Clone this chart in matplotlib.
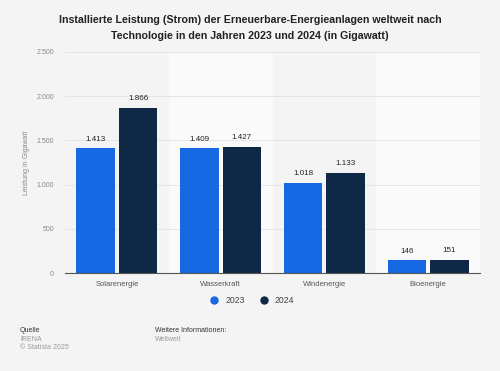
import matplotlib.pyplot as plt
import numpy as np

categories = ['Solarenergie', 'Wasserkraft', 'Windenergie', 'Bioenergie']
years = ['2023', '2024']
values_2023 = [1413, 1409, 1018, 146]
values_2024 = [1866, 1427, 1133, 151]
yticks = [0, 500, 1000, 1500, 2000, 2500]

BG = '#f4f4f4'
BLUE = '#1668e3'
DARK = '#0f2846'

plt.rcParams['font.family'] = ['Liberation Sans', 'DejaVu Sans']

fig = plt.figure(figsize=(5.0, 3.71), dpi=100, facecolor=BG)
ax = fig.add_axes([0.13, 0.264, 0.83, 0.596])
ax.set_facecolor(BG)

x = np.arange(len(categories))
w = 0.37
gap = 0.02
# lighter bands behind every second category
for i in x:
    if i % 2 == 1:
        ax.axvspan(i - 0.5, i + 0.5, color='#fafafa', zorder=0, lw=0)

b1 = ax.bar(x - w / 2 - gap, values_2023, w, color=BLUE, label=years[0], zorder=3)
b2 = ax.bar(x + w / 2 + gap, values_2024, w, color=DARK, label=years[1], zorder=3)

def fmt(v):
    return f'{v:,}'.replace(',', '.')

for bars, vals in ((b1, values_2023), (b2, values_2024)):
    for r, v in zip(bars, vals):
        ax.annotate(fmt(v), (r.get_x() + r.get_width() / 2, v),
                    textcoords='offset points', xytext=(0, 4),
                    ha='center', va='bottom', fontsize=5.8, color='#222222')

ax.set_xlim(-0.5, 3.5)
ax.set_ylim(0, 2500)
ax.set_yticks(yticks)
ax.set_yticklabels([fmt(t) for t in yticks], fontsize=5, color='#888888')
ax.set_xticks(x)
ax.set_xticklabels(categories, fontsize=5.5, color='#555555')
ax.tick_params(axis='x', length=0, pad=6)
ax.tick_params(axis='y', length=0, pad=8)
ax.grid(axis='y', color='#e2e2e2', lw=0.6, zorder=1)
for s in ('top', 'right', 'left'):
    ax.spines[s].set_visible(False)
ax.spines['bottom'].set_color('#555555')
ax.spines['bottom'].set_linewidth(0.8)
ax.spines['bottom'].set_zorder(4)
ax.set_ylabel('Leistung in Gigawatt', fontsize=5, color='#888888', labelpad=13)
ax.yaxis.set_label_coords(-0.085, 0.5)

fig.text(0.5, 0.925, 'Installierte Leistung (Strom) der Erneuerbare-Energieanlagen weltweit nach\n'
         'Technologie in den Jahren 2023 und 2024 (in Gigawatt)',
         ha='center', va='center', fontsize=7.7, fontweight='bold', color='#222222',
         linespacing=1.7)

leg = fig.legend(handles=[plt.Line2D([], [], marker='o', ls='', color=BLUE, ms=5),
                          plt.Line2D([], [], marker='o', ls='', color=DARK, ms=5)],
                 labels=years, loc='center', bbox_to_anchor=(0.5, 0.189), ncol=2,
                 frameon=False, fontsize=6.2, handletextpad=0.3, columnspacing=1.2)
for t in leg.get_texts():
    t.set_color('#444444')

fig.text(0.04, 0.11, 'Quelle', fontsize=5, color='#333333', va='center')
fig.text(0.04, 0.086, 'IRENA', fontsize=5, color='#999999', va='center')
fig.text(0.04, 0.062, '\u00a9 Statista 2025', fontsize=5, color='#999999', va='center')
fig.text(0.31, 0.11, 'Weitere Informationen:', fontsize=5, color='#333333', va='center')
fig.text(0.31, 0.086, 'Weltweit', fontsize=5, color='#999999', va='center')

fig.savefig('out.png', dpi=100, facecolor=BG)
